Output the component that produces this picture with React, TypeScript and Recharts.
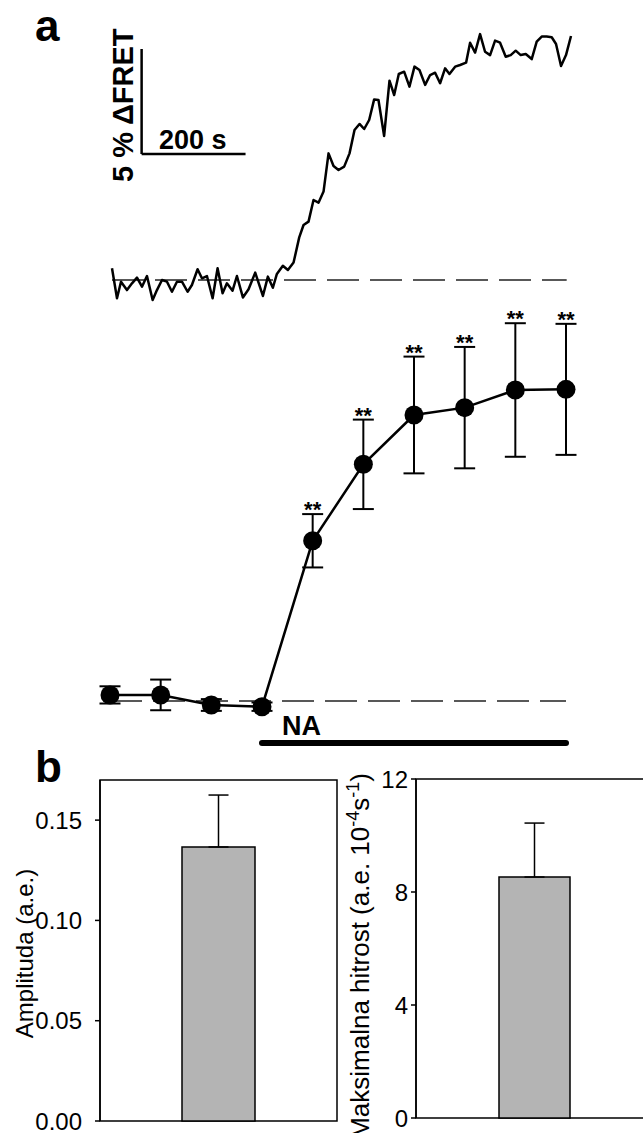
import {
  LineChart,
  Line,
  ComposedChart,
  Scatter,
  BarChart,
  Bar,
  XAxis,
  YAxis,
  ErrorBar,
  ReferenceLine,
  ReferenceArea,
} from 'recharts';

const FONT = '"Liberation Sans", Arial, sans-serif';

// single-cell FRET trace (s, % dFRET)
const traceT = [
  0, 9.6, 17.3, 28.8, 38.5, 48.1, 57.7, 67.3, 78.2, 86.5,
  96.2, 105.8, 115.4, 125, 134.6, 145.5, 153.8, 164.7, 173.1, 182.7,
  193.6, 203.2, 212.8, 221.1, 232, 240.4, 251.9, 262.8, 275.6, 290.4,
  300, 309.6, 317.3, 328.8, 338.5, 349.4, 360.3, 368.6, 378.2, 387.8,
  397.4, 407.1, 416.7, 426.3, 435.9, 446.8, 457.1, 466.7, 476.3, 485.3,
  494.9, 504.5, 512.8, 523.7, 534, 543, 551.9, 562.2, 572.4, 582.1,
  591.7, 602.6, 612.2, 621.8, 631.4, 641, 649.4, 660.3, 669.9, 681.4,
  689.1, 698.7, 708.3, 717.9, 727.6, 737.2, 746.8, 757.7, 767.3, 776.9,
  786.5, 796.2, 807.7, 817.3, 826.9, 836.5, 846.2, 854.5, 864.1, 873.7,
  883.3,
];
const traceV = [
  0.56, -0.87, -0.08, -0.48, -0.16, 0.11, -0.32, 0.19, -0.95, -0.48,
  0, -0.08, -0.56, -0.08, -0.08, -0.56, -0.24, 0.51, 0.08, 0.19,
  -0.87, 0.56, -0.63, -0.16, -0.51, 0.19, -0.83, -0.44, 0.35, -0.76,
  0.16, -0.37, 0.29, 0.68, 0.48, 0.83, 2.03, 2.62, 2.78, 3.81,
  3.68, 4.21, 6.03, 5.43, 5.24, 5.4, 6.03, 7.14, 7.43, 7.19,
  7.62, 8.6, 8.57, 6.86, 9.49, 8.81, 9.81, 9.92, 9.21, 10.16,
  10.0, 9.29, 9.76, 9.87, 9.37, 10.08, 9.81, 10.16, 10.24, 10.35,
  11.3, 10.83, 11.71, 10.87, 10.71, 11.4, 11.3, 10.63, 10.71, 10.92,
  10.71, 10.76, 10.52, 11.35, 11.59, 11.59, 11.56, 11.24, 10.19, 10.71,
  11.62,
];

// averaged response
const meanT = [-300, -200, -100, 0, 100, 200, 300, 400, 500, 600];
const meanV = [0.29, 0.29, -0.19, -0.27, 7.63, 11.27, 13.62, 13.97, 14.81, 14.84];
const meanErr = [0.41, 0.73, 0.28, 0.2, 1.27, 2.13, 2.78, 2.89, 3.18, 3.12];
const meanSig = ['', '', '', '', '**', '**', '**', '**', '**', '**'];

// panel b
const ampMean = [0.1366];
const ampErr = [0.0259];
const ampTicks = [0, 0.05, 0.1, 0.15];
const rateMean = [8.53];
const rateErr = [1.91];
const rateTicks = [0, 4, 8, 12];

const traceData = traceT.map((t, i) => ({ t, v: traceV[i] }));
const meanData = meanT.map((t, i) => ({
  t,
  v: meanV[i],
  err: meanErr[i],
  upper: meanV[i] + meanErr[i],
  star: meanSig[i],
}));
const ampData = [{ name: 'NA', v: ampMean[0], err: [0, ampErr[0]] }];
const rateData = [{ name: 'NA', v: rateMean[0], err: [0, rateErr[0]] }];

const StarShape = (props: any) => {
  if (!props.payload || !props.payload.star) return <g />;
  return (
    <text x={props.cx} y={props.cy + 3} textAnchor="middle" fontSize={22} fontWeight="bold" fontFamily={FONT} fill="#000">
      {props.payload.star}
    </text>
  );
};

export default function App() {
  return (
    <div style={{ position: 'absolute', left: 0, top: 0, width: 643, height: 1133, overflow: 'hidden', background: '#fff', fontFamily: FONT }}>
      <div style={{ position: 'absolute', left: 0, top: 0 }}>
        <LineChart width={643} height={320} data={traceData} margin={{ top: 28, right: 72, bottom: 19, left: 112 }}>
          <XAxis dataKey="t" type="number" domain={[0, 883.3]} hide />
          <YAxis type="number" domain={[-1, 12]} hide />
          <ReferenceLine segment={[{ x: 0, y: 0 }, { x: 875, y: 0 }]} stroke="#222" strokeWidth={1.5} strokeDasharray="32 11" ifOverflow="visible" />
          <ReferenceLine segment={[{ x: 57, y: 6 }, { x: 57, y: 11 }]} stroke="#000" strokeWidth={2.5} ifOverflow="visible" />
          <ReferenceLine segment={[{ x: 57, y: 6 }, { x: 257, y: 6 }]} stroke="#000" strokeWidth={2.5} ifOverflow="visible" />
          <Line dataKey="v" stroke="#000" strokeWidth={2.5} strokeLinejoin="round" dot={false} isAnimationActive={false} />
        </LineChart>
      </div>

      <div style={{ position: 'absolute', left: 0, top: 300 }}>
        <ComposedChart width={643} height={480} data={meanData} margin={{ top: 12.5, right: 77, bottom: 16, left: 110 }}>
          <XAxis dataKey="t" type="number" domain={[-300, 600]} hide />
          <YAxis type="number" domain={[-3, 18.5]} hide />
          <ReferenceLine segment={[{ x: -300, y: 0 }, { x: 600, y: 0 }]} stroke="#222" strokeWidth={1.5} strokeDasharray="32 11" ifOverflow="visible" />
          <ReferenceLine segment={[{ x: 0, y: -2 }, { x: 600, y: -2 }]} stroke="#000" strokeWidth={6} strokeLinecap="round" ifOverflow="visible" />
          <Line dataKey="v" stroke="#000" strokeWidth={2.5} dot={{ r: 9.5, fill: '#000', stroke: 'none' }} isAnimationActive={false}>
            <ErrorBar dataKey="err" width={10.5} stroke="#000" strokeWidth={2} direction="y" />
          </Line>
          <Scatter dataKey="upper" shape={StarShape} isAnimationActive={false} />
        </ComposedChart>
      </div>

      <div style={{ position: 'absolute', left: 0, top: 760 }}>
        <BarChart width={360} height={373} data={ampData} margin={{ top: 20, right: 23, bottom: 12, left: 40 }}>
          <XAxis dataKey="name" hide />
          <YAxis
            type="number"
            domain={[0, 0.17]}
            ticks={ampTicks}
            interval={0}
            width={60}
            tickFormatter={(v: number) => v.toFixed(2)}
            tick={{ fill: '#000', fontSize: 24, fontFamily: FONT }}
            tickSize={5}
            tickMargin={13}
            axisLine={{ stroke: '#000', strokeWidth: 1.5 }}
            tickLine={{ stroke: '#000', strokeWidth: 1.5 }}
          />
          <ReferenceArea y1={0} y2={0.17} fill="none" stroke="#000" strokeWidth={1.5} ifOverflow="visible" />
          <Bar dataKey="v" fill="#b4b4b4" stroke="#000" strokeWidth={1.5} barSize={73} isAnimationActive={false}>
            <ErrorBar dataKey="err" width={10} stroke="#000" strokeWidth={1.5} direction="y" />
          </Bar>
        </BarChart>
      </div>

      <div style={{ position: 'absolute', left: 340, top: 760 }}>
        <BarChart width={330} height={373} data={rateData} margin={{ top: 19, right: 17, bottom: 15, left: 16 }}>
          <XAxis dataKey="name" hide />
          <YAxis
            type="number"
            domain={[0, 12]}
            ticks={rateTicks}
            interval={0}
            width={60}
            tick={{ fill: '#000', fontSize: 24, fontFamily: FONT }}
            tickSize={5}
            tickMargin={3}
            axisLine={{ stroke: '#000', strokeWidth: 1.5 }}
            tickLine={{ stroke: '#000', strokeWidth: 1.5 }}
          />
          <ReferenceArea y1={0} y2={12} fill="none" stroke="#000" strokeWidth={1.5} ifOverflow="visible" />
          <Bar dataKey="v" fill="#b4b4b4" stroke="#000" strokeWidth={1.5} barSize={71} isAnimationActive={false}>
            <ErrorBar dataKey="err" width={10} stroke="#000" strokeWidth={1.5} direction="y" />
          </Bar>
        </BarChart>
      </div>

      <svg width={643} height={1133} style={{ position: 'absolute', left: 0, top: 0, pointerEvents: 'none' }} fontFamily={FONT}>
        <text x={35} y={41} fontSize={44} fontWeight="bold">a</text>
        <text x={35} y={782} fontSize={44} fontWeight="bold">b</text>
        <text x={159} y={149} fontSize={27} fontWeight="bold">200 s</text>
        <text transform="translate(133,182) rotate(-90)" fontSize={29} fontWeight="bold">5 % ΔFRET</text>
        <text x={282} y={735} fontSize={27} fontWeight="bold">NA</text>
        <text transform="translate(33,953.5) rotate(-90)" textAnchor="middle" fontSize={24}>Amplituda (a.e.)</text>
        <text transform="translate(369,773) rotate(-90)" textAnchor="end" fontSize={26}>
          Maksimalna hitrost (a.e. 10<tspan dy={-10} fontSize={18}>-4</tspan>
          <tspan dy={10}>s</tspan>
          <tspan dy={-10} fontSize={18}>-1</tspan>
          <tspan dy={10}>)</tspan>
        </text>
      </svg>
    </div>
  );
}
